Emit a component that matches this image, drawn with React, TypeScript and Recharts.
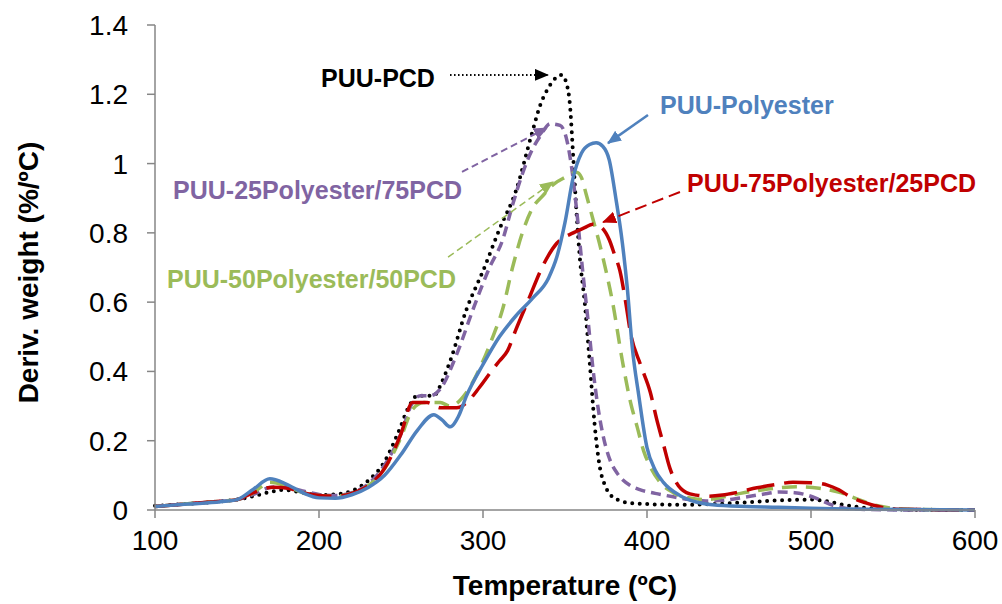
import React from 'react';
import { LineChart, Line, XAxis, YAxis, ReferenceLine, ReferenceDot } from 'recharts';

type Pt = [number, number];

const tempTicks = [100, 200, 300, 400, 500, 600];
const weightTicks = [0, 0.2, 0.4, 0.6, 0.8, 1, 1.2, 1.4];

// DTG curves: [temperature ºC, deriv. weight %/ºC]
const puuPolyester: Pt[] = [
  [100, 0.01], [120, 0.017], [140, 0.024], [150, 0.03], [160, 0.06], [170, 0.09], [180, 0.075],
  [190, 0.05], [200, 0.035], [210, 0.034], [220, 0.044], [230, 0.065], [240, 0.1], [250, 0.16],
  [260, 0.23], [270, 0.275], [275, 0.26], [280, 0.24], [285, 0.27], [290, 0.33], [300, 0.42],
  [310, 0.5], [320, 0.56], [330, 0.61], [340, 0.67], [345, 0.73], [350, 0.83], [355, 0.96],
  [360, 1.03], [365, 1.055], [369, 1.06], [373, 1.05], [377, 1.01], [381, 0.9], [385, 0.77],
  [388, 0.64], [391, 0.47], [395, 0.33], [400, 0.18], [405, 0.115], [410, 0.08], [420, 0.042],
  [430, 0.023], [440, 0.015], [460, 0.01], [480, 0.008], [500, 0.005], [540, 0.002], [600, 0],
];

const puuPcd: Pt[] = [
  [100, 0.012], [120, 0.018], [140, 0.025], [150, 0.03], [160, 0.04], [170, 0.052], [178, 0.058],
  [190, 0.05], [200, 0.043], [210, 0.045], [220, 0.055], [230, 0.085], [240, 0.14], [248, 0.22],
  [255, 0.3], [260, 0.33], [265, 0.33], [270, 0.33], [275, 0.37], [280, 0.43], [290, 0.58],
  [300, 0.69], [310, 0.81], [320, 0.92], [330, 1.09], [335, 1.17], [340, 1.22], [345, 1.25],
  [348, 1.256], [351, 1.23], [353, 1.17], [355, 1.02], [357, 0.86], [359, 0.73], [362, 0.6],
  [365, 0.43], [368, 0.25], [371, 0.13], [375, 0.065], [380, 0.035], [390, 0.02], [400, 0.017],
  [420, 0.015], [440, 0.017], [460, 0.022], [480, 0.028], [500, 0.03], [510, 0.025], [520, 0.015],
  [530, 0.008], [545, 0.003], [560, 0.001], [600, 0],
];

const puu25Pe75Pcd: Pt[] = [
  [100, 0.01], [120, 0.018], [140, 0.025], [150, 0.03], [160, 0.045], [170, 0.065], [178, 0.068],
  [190, 0.055], [200, 0.045], [210, 0.042], [220, 0.05], [230, 0.075], [240, 0.13], [250, 0.22],
  [257, 0.31], [262, 0.33], [268, 0.33], [274, 0.35], [284, 0.45], [294, 0.58], [304, 0.7],
  [312, 0.78], [318, 0.88], [324, 0.97], [330, 1.04], [335, 1.08], [341, 1.115], [347, 1.11],
  [351, 1.07], [354, 0.99], [357, 0.87], [361, 0.68], [364, 0.55], [367, 0.41], [370, 0.3],
  [373, 0.22], [377, 0.15], [382, 0.105], [390, 0.07], [396, 0.058], [405, 0.048], [416, 0.038],
  [426, 0.03], [436, 0.026], [447, 0.028], [457, 0.035], [470, 0.045], [481, 0.052], [490, 0.05],
  [497, 0.044], [505, 0.03], [513, 0.014], [520, 0.006], [530, 0.002], [560, 0], [600, 0],
];

const puu50Pe50Pcd: Pt[] = [
  [100, 0.01], [120, 0.018], [140, 0.025], [150, 0.03], [160, 0.05], [170, 0.08], [180, 0.07],
  [190, 0.05], [200, 0.042], [210, 0.04], [220, 0.048], [230, 0.07], [240, 0.12], [250, 0.21],
  [257, 0.29], [264, 0.31], [274, 0.31], [280, 0.3], [290, 0.34], [300, 0.43], [306, 0.5],
  [312, 0.58], [318, 0.7], [324, 0.8], [330, 0.87], [337, 0.91], [343, 0.94], [350, 0.96],
  [357, 0.975], [360, 0.96], [363, 0.91], [367, 0.84], [371, 0.77], [375, 0.69], [379, 0.6],
  [385, 0.43], [390, 0.31], [394, 0.24], [398, 0.17], [402, 0.125], [408, 0.08], [416, 0.05],
  [426, 0.035], [436, 0.03], [447, 0.038], [457, 0.048], [470, 0.058], [483, 0.065], [493, 0.067],
  [505, 0.063], [518, 0.05], [528, 0.032], [538, 0.015], [548, 0.006], [560, 0.002], [600, 0],
];

const puu75Pe25Pcd: Pt[] = [
  [100, 0.01], [120, 0.018], [140, 0.025], [150, 0.03], [160, 0.05], [172, 0.066], [182, 0.062],
  [190, 0.05], [200, 0.042], [210, 0.04], [220, 0.048], [230, 0.07], [240, 0.12], [250, 0.22],
  [257, 0.31], [266, 0.31], [274, 0.295], [284, 0.295], [290, 0.31], [298, 0.355], [305, 0.4],
  [310, 0.43], [315, 0.46], [320, 0.52], [328, 0.61], [336, 0.7], [345, 0.77], [355, 0.8],
  [362, 0.815], [367, 0.825], [371, 0.82], [377, 0.78], [380, 0.74], [383.5, 0.69], [387, 0.6],
  [390, 0.51], [396, 0.42], [402, 0.34], [406, 0.26], [410, 0.19], [414, 0.12], [418, 0.078],
  [424, 0.05], [430, 0.043], [438, 0.04], [446, 0.043], [456, 0.052], [467, 0.064], [478, 0.073],
  [489, 0.08], [500, 0.079], [510, 0.072], [517, 0.058], [524, 0.038], [531, 0.024], [538, 0.014],
  [545, 0.006], [555, 0.002], [600, 0],
];

const BLUE = '#4f81bd';
const BLACK = '#000000';
const PURPLE = '#8064a2';
const GREEN = '#9bbb59';
const RED = '#c00000';
const AXIS = '#868686';
const FONT = '"Liberation Sans", Arial, sans-serif';

const toRows = (pts: Pt[]) => pts.map(([t, v]) => ({ t, v }));

// callout labels: text, anchor point, which side the text sits on
const callouts = [
  { text: 'PUU-PCD', x: 270.7, y: 1.247, side: 'left', color: BLACK },
  { text: 'PUU-Polyester', x: 407.9, y: 1.169, side: 'right', color: BLUE },
  { text: 'PUU-75Polyester/25PCD', x: 424.4, y: 0.944, side: 'right', color: RED },
  { text: 'PUU-25Polyester/75PCD', x: 111, y: 0.922, side: 'right', color: PURPLE },
  { text: 'PUU-50Polyester/50PCD', x: 107.3, y: 0.667, side: 'right', color: GREEN },
];

// arrows from callout to curve: [from, to]
const arrows = [
  { id: 'aBlack', from: [279.9, 1.256], to: [339.6, 1.256], color: BLACK, dash: '1.5 2.5', w: 2 },
  { id: 'aBlue', from: [400.6, 1.14], to: [376.2, 1.059], color: BLUE, dash: undefined, w: 2.5 },
  { id: 'aRed', from: [420.1, 0.918], to: [373.2, 0.831], color: RED, dash: '12 6', w: 2 },
  { id: 'aPurple', from: [287.2, 0.976], to: [339, 1.103], color: PURPLE, dash: '7 4', w: 2 },
  { id: 'aGreen', from: [278.7, 0.73], to: [342.7, 0.947], color: GREEN, dash: '7 4', w: 1.5 },
];

const YTitle = ({ viewBox }: any) => {
  const cx = viewBox.x + 28;
  const cy = viewBox.y + viewBox.height / 2 + 5;
  return (
    <text x={cx} y={cy} dy="0.35em" transform={`rotate(-90 ${cx} ${cy})`} textAnchor="middle"
      fontFamily={FONT} fontSize={28} fontWeight="bold" fill="#000">
      Deriv. weight (%/ºC)
    </text>
  );
};

export default function App() {
  return (
    <div style={{ position: 'absolute', left: 0, top: 0, background: '#fff' }}>
      <LineChart width={1002} height={604} margin={{ top: 25, right: 27, left: 0, bottom: 0 }}>
        <defs>
          {arrows.map((a) => (
            <marker key={a.id} id={a.id} viewBox="0 0 14 12" refX="13" refY="6"
              markerWidth="14" markerHeight="12" markerUnits="userSpaceOnUse" orient="auto">
              <path d="M0,0 L14,6 L0,12 z" fill={a.color} />
            </marker>
          ))}
        </defs>
        <XAxis
          type="number"
          dataKey="t"
          domain={[100, 600]}
          ticks={tempTicks}
          allowDuplicatedCategory={false}
          height={94}
          stroke={AXIS}
          strokeWidth={1.5}
          tickSize={8}
          tickMargin={12}
          tick={{ fill: '#000', fontSize: 28, fontFamily: FONT }}
          label={{ value: 'Temperature (ºC)', position: 'insideBottom', offset: 9, fill: '#000', fontSize: 28, fontWeight: 'bold', fontFamily: FONT }}
        />
        <YAxis
          type="number"
          domain={[0, 1.4]}
          ticks={weightTicks}
          width={155}
          stroke={AXIS}
          strokeWidth={1.5}
          tickSize={8}
          tickMargin={19}
          tick={{ fill: '#000', fontSize: 28, fontFamily: FONT }}
          label={{ content: YTitle }}
        />
        <Line data={toRows(puuPcd)} dataKey="v" type="monotone" stroke={BLACK} strokeWidth={4}
          strokeDasharray="0 7.5" strokeLinecap="round" dot={false} activeDot={false} isAnimationActive={false} />
        <Line data={toRows(puu25Pe75Pcd)} dataKey="v" type="monotone" stroke={PURPLE} strokeWidth={3.5}
          strokeDasharray="10 6" dot={false} activeDot={false} isAnimationActive={false} />
        <Line data={toRows(puu50Pe50Pcd)} dataKey="v" type="monotone" stroke={GREEN} strokeWidth={3.5}
          strokeDasharray="15 9" dot={false} activeDot={false} isAnimationActive={false} />
        <Line data={toRows(puu75Pe25Pcd)} dataKey="v" type="monotone" stroke={RED} strokeWidth={3.5}
          strokeDasharray="28 10" dot={false} activeDot={false} isAnimationActive={false} />
        <Line data={toRows(puuPolyester)} dataKey="v" type="monotone" stroke={BLUE} strokeWidth={3.5}
          dot={false} activeDot={false} isAnimationActive={false} />
        {arrows.map((a) => (
          <ReferenceLine key={a.id} ifOverflow="visible"
            segment={[{ x: a.from[0], y: a.from[1] }, { x: a.to[0], y: a.to[1] }]}
            stroke={a.color} strokeWidth={a.w} strokeDasharray={a.dash} markerEnd={`url(#${a.id})`} />
        ))}
        {callouts.map((c) => (
          <ReferenceDot key={c.text} x={c.x} y={c.y} r={0} fill="none" stroke="none" ifOverflow="visible"
            label={{ value: c.text, position: c.side as any, offset: 0, fill: c.color, fontSize: 25, fontWeight: 'bold', fontFamily: FONT }} />
        ))}
      </LineChart>
    </div>
  );
}
